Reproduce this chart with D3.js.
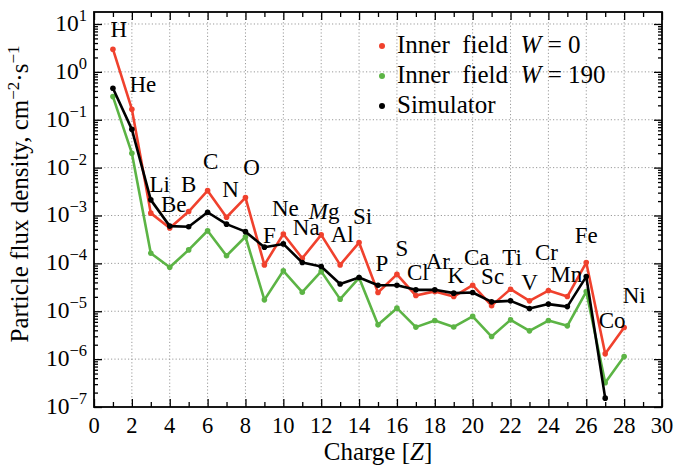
<!DOCTYPE html>
<html><head><meta charset="utf-8">
<script src="https://cdn.jsdelivr.net/npm/d3@7/dist/d3.min.js"></script>
<style>
body{margin:0;background:#fff;}
svg{display:block;}
</style></head><body>
<svg id="chart" width="678" height="466" font-family="'Liberation Serif', 'DejaVu Serif', 'Times New Roman', serif"></svg>
<script>
// ---- data ----
const elements = ["H","He","Li","Be","B","C","N","O","F","Ne","Na","Mg","Al","Si","P","S","Cl","Ar","K","Ca","Sc","Ti","V","Cr","Mn","Fe","Co","Ni"];
const charge = [1,2,3,4,5,6,7,8,9,10,11,12,13,14,15,16,17,18,19,20,21,22,23,24,25,26,27,28];
const innerW0 = [2.97,0.166,1.12e-3,5.5e-4,1.21e-3,3.3e-3,9.2e-4,2.37e-3,9.3e-5,4.1e-4,1.28e-4,3.94e-4,9.3e-5,2.72e-4,2.46e-5,5.9e-5,2.13e-5,2.6e-5,2.03e-5,3.5e-5,1.31e-5,2.89e-5,1.65e-5,2.7e-5,2.03e-5,1.04e-4,1.29e-6,4.57e-6];
const innerW190 = [0.304,0.020,1.63e-4,8.3e-5,1.91e-4,4.8e-4,1.44e-4,3.6e-4,1.73e-5,7.0e-5,2.5e-5,6.8e-5,1.79e-5,5.0e-5,5.2e-6,1.16e-5,4.66e-6,6.4e-6,4.7e-6,7.8e-6,2.96e-6,6.6e-6,3.9e-6,6.4e-6,4.96e-6,2.58e-5,3.2e-7,1.13e-6];
const simulator = [0.454,0.063,2.12e-3,6.0e-4,5.8e-4,1.17e-3,6.6e-4,4.6e-4,2.18e-4,2.55e-4,1.04e-4,8.6e-5,3.7e-5,5.06e-5,3.5e-5,3.5e-5,2.8e-5,2.8e-5,2.39e-5,2.46e-5,1.57e-5,1.65e-5,1.14e-5,1.41e-5,1.25e-5,5.3e-5,1.53e-7,null];
const xTickLabels = [0,2,4,6,8,10,12,14,16,18,20,22,24,26,28,30];
const yTickExponents = [1,0,-1,-2,-3,-4,-5,-6,-7];
const seriesNames = ["Inner field W = 0","Inner field W = 190","Simulator"];
// label placement (pixel offsets from the highest point of each element)
const labelDx = [6,11,9,4,0,3,4,6,5,2,4,3,2,3.5,4,5,2,3,2,4,1,1.5,0,-2,-1,0,7,10];
const labelDy = [-12,-17,-8,-14,-20,-22,-20,-23,-4,-18,-23,-16,-23,-19,-14,-18,-10,-21,-10,-20,-18,-24,-11,-31,-15,-20,-26,-25];

// ---- layout ----
const svg = d3.select("#chart");
const L = 94, R = 662, T = 12, B = 407;
const x = d3.scaleLinear().domain([0,30]).range([L,R]);
const y = d3.scaleLog().domain([1e-7, 17.8]).range([B,T]);
const colors = ["#f0412d","#5cb445","#000000"];
const series = [innerW0, innerW190, simulator];

// grid
const grid = svg.append("g").attr("stroke","#9a9a9a").attr("stroke-width",1).attr("stroke-dasharray","1.2,2.2");
xTickLabels.filter(v=>v>0 && v<30).forEach(v=>{
  grid.append("line").attr("x1",x(v)).attr("x2",x(v)).attr("y1",T).attr("y2",B);
});
yTickExponents.filter(e=>e>-7).forEach(e=>{
  grid.append("line").attr("x1",L).attr("x2",R).attr("y1",y(Math.pow(10,e))).attr("y2",y(Math.pow(10,e)));
});

// axes with inward ticks
function addAxis(axis, tr){
  const g = svg.append("g").attr("transform",tr).call(axis);
  g.select(".domain").remove();
  g.selectAll("line").attr("stroke","#000").attr("stroke-width",1.3);
  g.selectAll("text").remove();
  return g;
}
const xMinor = d3.range(0,31,1);
addAxis(d3.axisBottom(x).tickValues(xMinor.filter(v=>v%2)).tickSize(-5), `translate(0,${B})`);
addAxis(d3.axisBottom(x).tickValues(xTickLabels).tickSize(-8), `translate(0,${B})`);
addAxis(d3.axisTop(x).tickValues(xMinor.filter(v=>v%2)).tickSize(-5), `translate(0,${T})`);
addAxis(d3.axisTop(x).tickValues(xTickLabels).tickSize(-8), `translate(0,${T})`);
const yMajor = yTickExponents.map(e=>Math.pow(10,e));
const yMinor = [];
yTickExponents.forEach(e=>{ for(let k=2;k<=9;k++){ const v=k*Math.pow(10,e); if(v<=17.8) yMinor.push(v);} });
addAxis(d3.axisLeft(y).tickValues(yMinor).tickSize(-4), `translate(${L},0)`);
addAxis(d3.axisLeft(y).tickValues(yMajor).tickSize(-8), `translate(${L},0)`);
addAxis(d3.axisRight(y).tickValues(yMinor).tickSize(-4), `translate(${R},0)`);
addAxis(d3.axisRight(y).tickValues(yMajor).tickSize(-8), `translate(${R},0)`);

// tick labels
svg.append("g").selectAll("text").data(xTickLabels).join("text")
  .attr("x",d=>x(d)).attr("y",B+26).attr("text-anchor","middle")
  .attr("font-size",22.5).text(d=>d);
const yl = svg.append("g").selectAll("text").data(yTickExponents).join("text")
  .attr("x",L-7).attr("y",d=>y(Math.pow(10,d))+7).attr("text-anchor","end").attr("font-size",23.5);
yl.each(function(d){
  const t = d3.select(this);
  t.append("tspan").text("10");
  t.append("tspan").attr("dy",-10).attr("font-size",16.5).text(d<0 ? "\u2212"+(-d) : d);
});

// clip
svg.append("clipPath").attr("id","clip").append("rect").attr("x",L).attr("y",T).attr("width",R-L).attr("height",B-T);

// lines
const line = d3.line().defined(d=>d.v!=null).x(d=>x(d.z)).y(d=>y(d.v));
const plot = svg.append("g").attr("clip-path","url(#clip)");
series.forEach((s,i)=>{
  const pts = charge.map((z,j)=>({z, v:s[j]}));
  plot.append("path").datum(pts).attr("d",line).attr("fill","none")
    .attr("stroke",colors[i]).attr("stroke-width",2.6).attr("stroke-linejoin","round");
  plot.append("g").selectAll("circle").data(pts.filter(d=>d.v!=null)).join("circle")
    .attr("cx",d=>x(d.z)).attr("cy",d=>y(d.v)).attr("r",2.8).attr("fill",colors[i]);
});

// frame
svg.append("rect").attr("x",L).attr("y",T).attr("width",R-L).attr("height",B-T)
  .attr("fill","none").attr("stroke","#000").attr("stroke-width",1.8);

// element labels
svg.append("g").selectAll("text").data(elements).join("text")
  .attr("x",(d,i)=>x(charge[i])+labelDx[i])
  .attr("y",(d,i)=>{ const top = d3.max(series, s=>s[i]); return y(top)+labelDy[i]; })
  .attr("text-anchor","middle").attr("font-size",23)
  .each(function(d){
    const t=d3.select(this);
    if(d==="Mg"){ t.append("tspan").attr("font-style","italic").text("M"); t.append("tspan").text("g"); }
    else t.text(d);
  });

// legend
const lg = svg.append("g");
seriesNames.forEach((name,i)=>{
  const by = 53 + i*30;
  lg.append("circle").attr("cx",382).attr("cy",by-7).attr("r",3).attr("fill",colors[i]);
  const t = lg.append("text").attr("x",397).attr("y",by).attr("font-size",25);
  if(i<2){
    const parts = name.split(" W = ");
    t.append("tspan").text("Inner\u2002field\u2002");
    t.append("tspan").attr("font-style","italic").text("W");
    t.append("tspan").text("\u2005=\u2005"+parts[1]);
  } else t.text(name);
});

// axis titles
svg.append("text").attr("x",(L+R)/2).attr("y",460).attr("text-anchor","middle").attr("font-size",25)
  .each(function(){
    const t=d3.select(this);
    t.append("tspan").text("Charge [");
    t.append("tspan").attr("font-style","italic").text("Z");
    t.append("tspan").text("]");
  });
svg.append("text").attr("transform","translate(28,194) rotate(-90)").attr("text-anchor","middle").attr("font-size",25)
  .each(function(){
    const t=d3.select(this);
    t.append("tspan").text("Particle flux density, cm");
    t.append("tspan").attr("dy",-9).attr("font-size",17).text("\u22122");
    t.append("tspan").attr("dy",9).text("\u00b7s");
    t.append("tspan").attr("dy",-9).attr("font-size",17).text("\u22121");
  });
</script>
</body></html>
